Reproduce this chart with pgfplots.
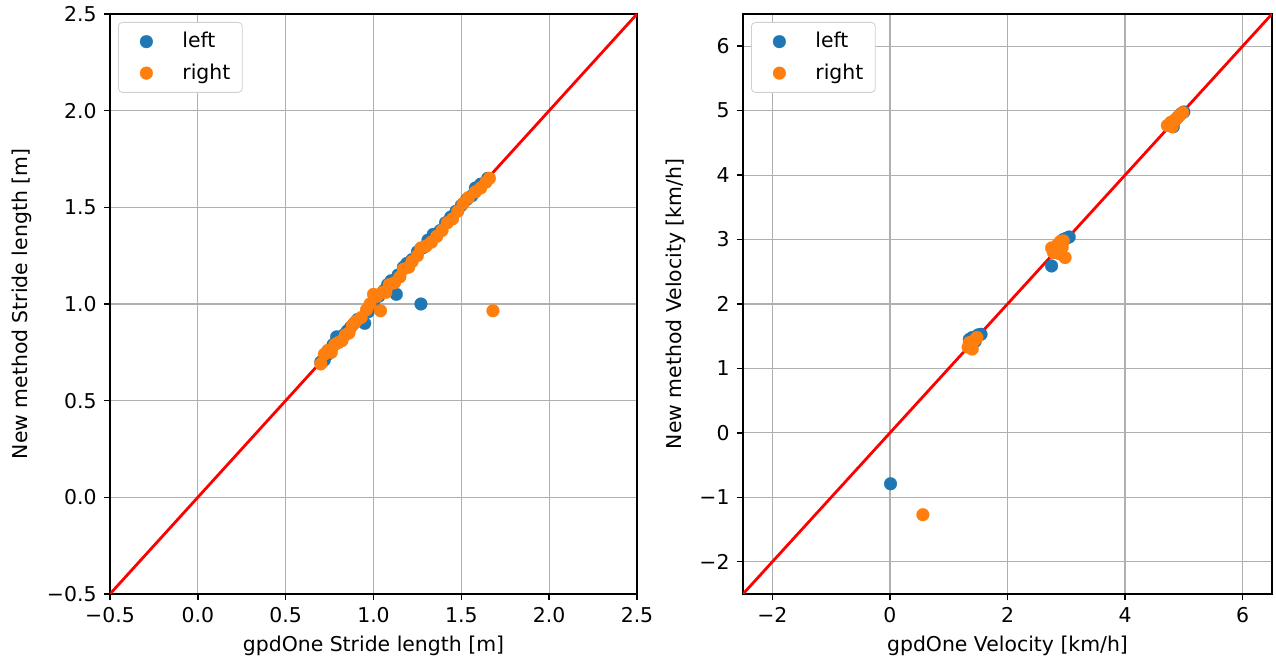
\documentclass[border=0pt]{standalone}
\usepackage{fontspec}
\setmainfont{DejaVu Sans}
\usepackage{pgfplots}
\pgfplotsset{compat=1.18}
\definecolor{cblue}{HTML}{1F77B4}
\definecolor{corange}{HTML}{FF7F0E}
\definecolor{gridgray}{HTML}{B0B0B0}

\pgfplotsset{mystyle/.style={
  scale only axis, height=290pt,
  axis line style={line width=0.73pt, black},
  grid=major, grid style={line width=0.6pt, color=gridgray},
  tick align=outside, major tick length=3.2pt,
  tick style={line width=0.73pt, black},
  xtick pos=left, ytick pos=left,
  font=\fontsize{10.2}{12}\selectfont,
  tick label style={font=\fontsize{10.2}{12}\selectfont},
  label style={font=\fontsize{10.2}{12}\selectfont},
  legend cell align=left,
  legend style={at={(axis description cs:0,1)}, anchor=north west, xshift=4pt, yshift=-4pt,
    draw=gridgray!60, rounded corners=2pt, font=\fontsize{10.2}{12}\selectfont,
    inner xsep=4pt, inner ysep=3pt, row sep=2.5pt},
  legend image code/.code={\path[draw=none, fill=none] (0pt,-4pt) rectangle (26pt,4pt); \draw[#1] plot coordinates {(10pt,0pt)};},
  scatblue/.style={only marks, mark=*, mark size=3.2pt, mark options={draw=cblue, fill=cblue, line width=0.1pt}},
  scatorange/.style={only marks, mark=*, mark size=3.2pt, mark options={draw=corange, fill=corange, line width=0.1pt}},
}}

\begin{document}
\begin{tikzpicture}
\path[use as bounding box] (0,0) rectangle (638pt,331pt);

\begin{axis}[mystyle, width=263.5pt, at={(55pt,34pt)}, anchor=south west,
  xmin=-0.5, xmax=2.5, ymin=-0.5, ymax=2.5,
  xtick={-0.5,0,0.5,1,1.5,2,2.5}, xticklabels={−0.5,0.0,0.5,1.0,1.5,2.0,2.5},
  ytick={-0.5,0,0.5,1,1.5,2,2.5}, yticklabels={−0.5,0.0,0.5,1.0,1.5,2.0,2.5},
  xlabel={gpdOne Stride length [m]}, ylabel={New method Stride length [m]},
  xlabel style={at={(axis description cs:0.5,-0.0897)}, anchor=center},
  ylabel style={at={(axis description cs:-0.168,0.5)}, anchor=center, rotate=0},
]
\addplot[scatblue] coordinates {
(0.70,0.70) (0.72,0.71) (0.74,0.74) (0.76,0.77) (0.77,0.79) (0.79,0.83) (0.81,0.82)
(0.83,0.84) (0.85,0.86) (0.87,0.88) (0.89,0.90) (0.91,0.92) (0.95,0.90) (0.97,0.96)
(1.00,1.00) (1.03,1.04) (1.06,1.07) (1.08,1.10) (1.10,1.12) (1.13,1.05) (1.14,1.15)
(1.17,1.19) (1.19,1.21) (1.22,1.23) (1.25,1.27) (1.27,1.00) (1.28,1.29) (1.31,1.33)
(1.34,1.36) (1.38,1.38) (1.41,1.42) (1.44,1.45) (1.47,1.48) (1.50,1.51) (1.53,1.54)
(1.56,1.56) (1.58,1.60) (1.61,1.62) (1.65,1.65)
};
\addlegendentry{left}
\addplot[scatorange] coordinates {
(0.70,0.69) (0.72,0.74) (0.74,0.76) (0.76,0.75) (0.78,0.79) (0.80,0.80) (0.82,0.81)
(0.84,0.84) (0.86,0.85) (0.88,0.89) (0.90,0.91) (0.93,0.93) (0.96,0.97) (0.98,1.00)
(1.00,1.05) (1.02,1.04) (1.04,0.965) (1.05,1.06) (1.07,1.06) (1.09,1.10) (1.12,1.11)
(1.15,1.14) (1.17,1.18) (1.20,1.19) (1.22,1.22) (1.25,1.25) (1.27,1.29) (1.30,1.30)
(1.33,1.32) (1.36,1.35) (1.39,1.38) (1.42,1.42) (1.45,1.44) (1.48,1.48) (1.51,1.52)
(1.54,1.55) (1.58,1.58) (1.61,1.60) (1.64,1.63) (1.66,1.65) (1.68,0.965)
};
\addlegendentry{right}
\addplot[red, line width=1.4pt, no marks, forget plot] coordinates {(-0.5,-0.5) (2.5,2.5)};
\end{axis}

\begin{axis}[mystyle, width=264.5pt, at={(371.5pt,34pt)}, anchor=south west,
  xmin=-2.5, xmax=6.5, ymin=-2.5, ymax=6.5,
  xtick={-2,0,2,4,6}, xticklabels={−2,0,2,4,6},
  ytick={-2,-1,0,1,2,3,4,5,6}, yticklabels={−2,−1,0,1,2,3,4,5,6},
  xlabel={gpdOne Velocity [km/h]}, ylabel={New method Velocity [km/h]},
  xlabel style={at={(axis description cs:0.5,-0.0897)}, anchor=center},
  ylabel style={at={(axis description cs:-0.127,0.5)}, anchor=center, rotate=0},
]
\addplot[scatblue] coordinates {
(1.35,1.45) (1.40,1.48) (1.50,1.52) (1.55,1.53) (1.45,1.42) (1.38,1.38)
(2.75,2.59) (2.90,2.95) (2.95,3.00) (3.00,3.02) (3.05,3.04) (2.85,2.90) (2.80,2.80)
(4.78,4.78) (4.85,4.85) (4.90,4.90) (4.95,4.95) (5.00,4.98) (4.82,4.75)
(0.01,-0.79)
};
\addlegendentry{left}
\addplot[scatorange] coordinates {
(1.33,1.33) (1.38,1.35) (1.42,1.42) (1.45,1.45) (1.35,1.40) (1.40,1.30) (1.48,1.48)
(2.75,2.87) (2.78,2.80) (2.82,2.85) (2.85,2.92) (2.90,2.97) (2.95,2.98) (2.98,2.72) (2.93,2.88) (2.88,2.78)
(4.72,4.77) (4.78,4.82) (4.83,4.84) (4.88,4.88) (4.93,4.93) (4.98,4.97) (4.80,4.75)
(0.56,-1.27)
};
\addlegendentry{right}
\addplot[red, line width=1.4pt, no marks, forget plot] coordinates {(-2.5,-2.5) (6.5,6.5)};
\end{axis}
\end{tikzpicture}
\end{document}
